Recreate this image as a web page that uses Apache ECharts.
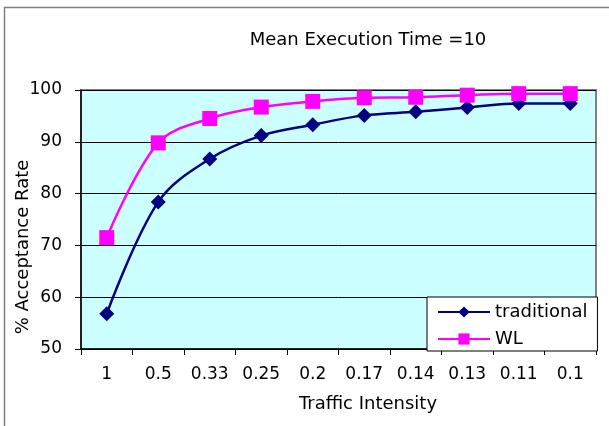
<!DOCTYPE html>
<html>
<head>
<meta charset="utf-8">
<script src="https://cdn.jsdelivr.net/npm/echarts@6/dist/echarts.min.js"></script>
<style>
html,body{margin:0;padding:0;background:#fff;}
#chart{width:609px;height:426px;}
</style>
</head>
<body>
<div id="chart"></div>
<script>
var categories = ['1', '0.5', '0.33', '0.25', '0.2', '0.17', '0.14', '0.13', '0.11', '0.1'];
var traditional = [56.8, 78.4, 86.7, 91.2, 93.3, 95.1, 95.8, 96.6, 97.4, 97.4];
var wl = [71.5, 89.8, 94.5, 96.7, 97.8, 98.5, 98.6, 99.0, 99.3, 99.3];
var yTicks = {min: 50, max: 100, interval: 10};
var titleText = 'Mean Execution Time =10';
var xName = 'Traffic Intensity';
var yName = '% Acceptance Rate';

var FONT = 'DejaVu Sans';
var chart = echarts.init(document.getElementById('chart'), null, {renderer: 'canvas'});
chart.setOption({
  animation: false,
  backgroundColor: '#ffffff',
  graphic: [
    {type: 'rect', z: 0, silent: true, shape: {x: 4.5, y: 7.5, width: 700, height: 500},
     style: {fill: 'none', stroke: '#808080', lineWidth: 1.5}},
    {type: 'text', z: 10, style: {text: titleText, font: '18px "DejaVu Sans"', fill: '#000', x: 368, y: 40, align: 'center', verticalAlign: 'middle'}},
    {type: 'text', z: 10, style: {text: xName, font: '18px "DejaVu Sans"', fill: '#000', x: 368, y: 404, align: 'center', verticalAlign: 'middle'}},
    {type: 'text', z: 10, x: 23, y: 247, rotation: Math.PI / 2, style: {text: yName, font: '18px "DejaVu Sans"', fill: '#000', x: 0, y: 0, align: 'center', verticalAlign: 'middle'}}
  ],
  grid: {
    left: 81, top: 90, width: 515, height: 259,
    show: true, backgroundColor: '#CCFFFF', borderColor: '#808080', borderWidth: 2
  },
  legend: {
    orient: 'vertical',
    left: 427, top: 297,
    padding: [6, 10, 3, 10],
    itemGap: 9,
    itemWidth: 52, itemHeight: 14,
    backgroundColor: '#ffffff',
    borderColor: '#000000', borderWidth: 1,
    textStyle: {fontFamily: FONT, fontSize: 18, color: '#000'},
    data: ['traditional', 'WL']
  },
  xAxis: {
    type: 'category',
    data: categories,
    boundaryGap: true,
    axisLine: {lineStyle: {color: '#000', width: 1.5}},
    axisTick: {show: true, length: 6, lineStyle: {color: '#000', width: 1}},
    axisLabel: {fontFamily: FONT, fontSize: 17, color: '#000', margin: 17},
    splitLine: {show: false}
  },
  yAxis: {
    type: 'value',
    min: yTicks.min, max: yTicks.max, interval: yTicks.interval,
    axisLine: {show: true, lineStyle: {color: '#000', width: 1.5}},
    axisTick: {show: true, length: 6, lineStyle: {color: '#000', width: 1}},
    axisLabel: {fontFamily: FONT, fontSize: 17, color: '#000', margin: 19},
    splitLine: {show: true, lineStyle: {color: '#000', width: 1}}
  },
  series: [
    {
      name: 'traditional', type: 'line', data: traditional, smooth: 0.35,
      symbol: 'diamond', symbolSize: 15,
      lineStyle: {color: '#000080', width: 2.5},
      itemStyle: {color: '#000080'},
      z: 3
    },
    {
      name: 'WL', type: 'line', data: wl, smooth: 0.35,
      symbol: 'rect', symbolSize: 15,
      lineStyle: {color: '#FF00FF', width: 2.5},
      itemStyle: {color: '#FF00FF'},
      z: 4
    }
  ]
});
</script>
</body>
</html>
